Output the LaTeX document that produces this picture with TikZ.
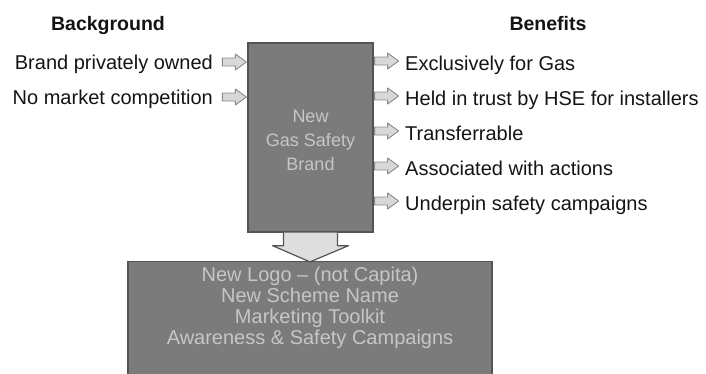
\documentclass[tikz,border=0pt]{standalone}
\usepackage{fontspec}
\setmainfont{Liberation Sans}
\usetikzlibrary{calc}

\definecolor{boxgray}{HTML}{7B7B7B}
\definecolor{boxedge}{HTML}{545454}
\definecolor{boxtext}{HTML}{C6C6C6}
\definecolor{arrowfill}{HTML}{D8D8D8}
\definecolor{arrowedge}{HTML}{8A8A8A}
\definecolor{inktext}{HTML}{141414}

\begin{document}
\begin{tikzpicture}[x=1pt,y=-1pt,
  heading/.style={font=\fontsize{19.5}{21}\selectfont\bfseries, text=inktext, inner sep=0pt},
  item/.style={font=\fontsize{20}{22}\selectfont, text=inktext, inner sep=0pt},
  brandbox/.style={fill=boxgray, draw=boxedge, line width=1.3pt,
    minimum width=125pt, minimum height=189pt, inner sep=0pt},
  planbox/.style={fill=boxgray, draw=boxedge, line width=1.3pt,
    minimum width=364pt, minimum height=119pt, inner sep=0pt},
  brandtext/.style={font=\fontsize{18}{24}\selectfont, text=boxtext, align=center, inner sep=0pt},
  plantext/.style={font=\fontsize{20}{21}\selectfont, text=boxtext, align=center, inner sep=0pt},
  blockarrow/.style={fill=arrowfill, draw=arrowedge, line width=0.9pt, line join=round},
  downarrow/.style={fill=arrowfill!85!white, draw=boxedge, line width=1.2pt, line join=round},
  barrow/.pic={\draw[blockarrow] (0,-4) -- (13,-4) -- (13,-8) -- (24,0) -- (13,8) -- (13,4) -- (0,4) -- cycle;}
]
\useasboundingbox (0,0) rectangle (706,373);

% headings
\node[heading, anchor=base] (bghead) at (108,30) {Background};
\node[heading, anchor=base] (bnhead) at (548,30) {Benefits};

% central brand box and the plan box below it
\node[brandbox] (ngsb) at (310.5,137.5) {};
\node[brandtext] (ngsbtext) at (310.5,140) {New\\Gas Safety\\Brand};
\node[planbox] (plan) at (310,321) {};
\node[plantext] (plantxt) at (310,307.5)
  {New Logo -- (not Capita)\\New Scheme Name\\Marketing Toolkit\\Awareness \& Safety Campaigns};

% background items feeding the brand
\node[item, anchor=base east] (bg1) at (213,69) {Brand privately owned};
\node[item, anchor=base east] (bg2) at (213,104) {No market competition};
\pic at ([xshift=-25pt,yshift=7pt]ngsb.west |- bg1.base) {barrow};
\pic at ([xshift=-25pt,yshift=7pt]ngsb.west |- bg2.base) {barrow};

% benefits of the brand
\node[item, anchor=base west] (bn1) at (405,70) {Exclusively for Gas};
\node[item, anchor=base west] (bn2) at (405,105) {Held in trust by HSE for installers};
\node[item, anchor=base west] (bn3) at (405,140) {Transferrable};
\node[item, anchor=base west] (bn4) at (405,175) {Associated with actions};
\node[item, anchor=base west] (bn5) at (405,210) {Underpin safety campaigns};
\foreach \b in {bn1,bn2,bn3,bn4,bn5}
  \pic at ([xshift=1pt,yshift=9pt]ngsb.east |- \b.base) {barrow};

% broad arrow from the brand down to the plan
\draw[downarrow] ($(ngsb.south)+(-27,0)$) -- ($(ngsb.south)+(-27,13)$)
  -- ($(ngsb.south)+(-38,13)$) -- ($(plan.north)+(0,1)$)
  -- ($(ngsb.south)+(38,13)$) -- ($(ngsb.south)+(27,13)$)
  -- ($(ngsb.south)+(27,0)$);
\end{tikzpicture}
\end{document}
